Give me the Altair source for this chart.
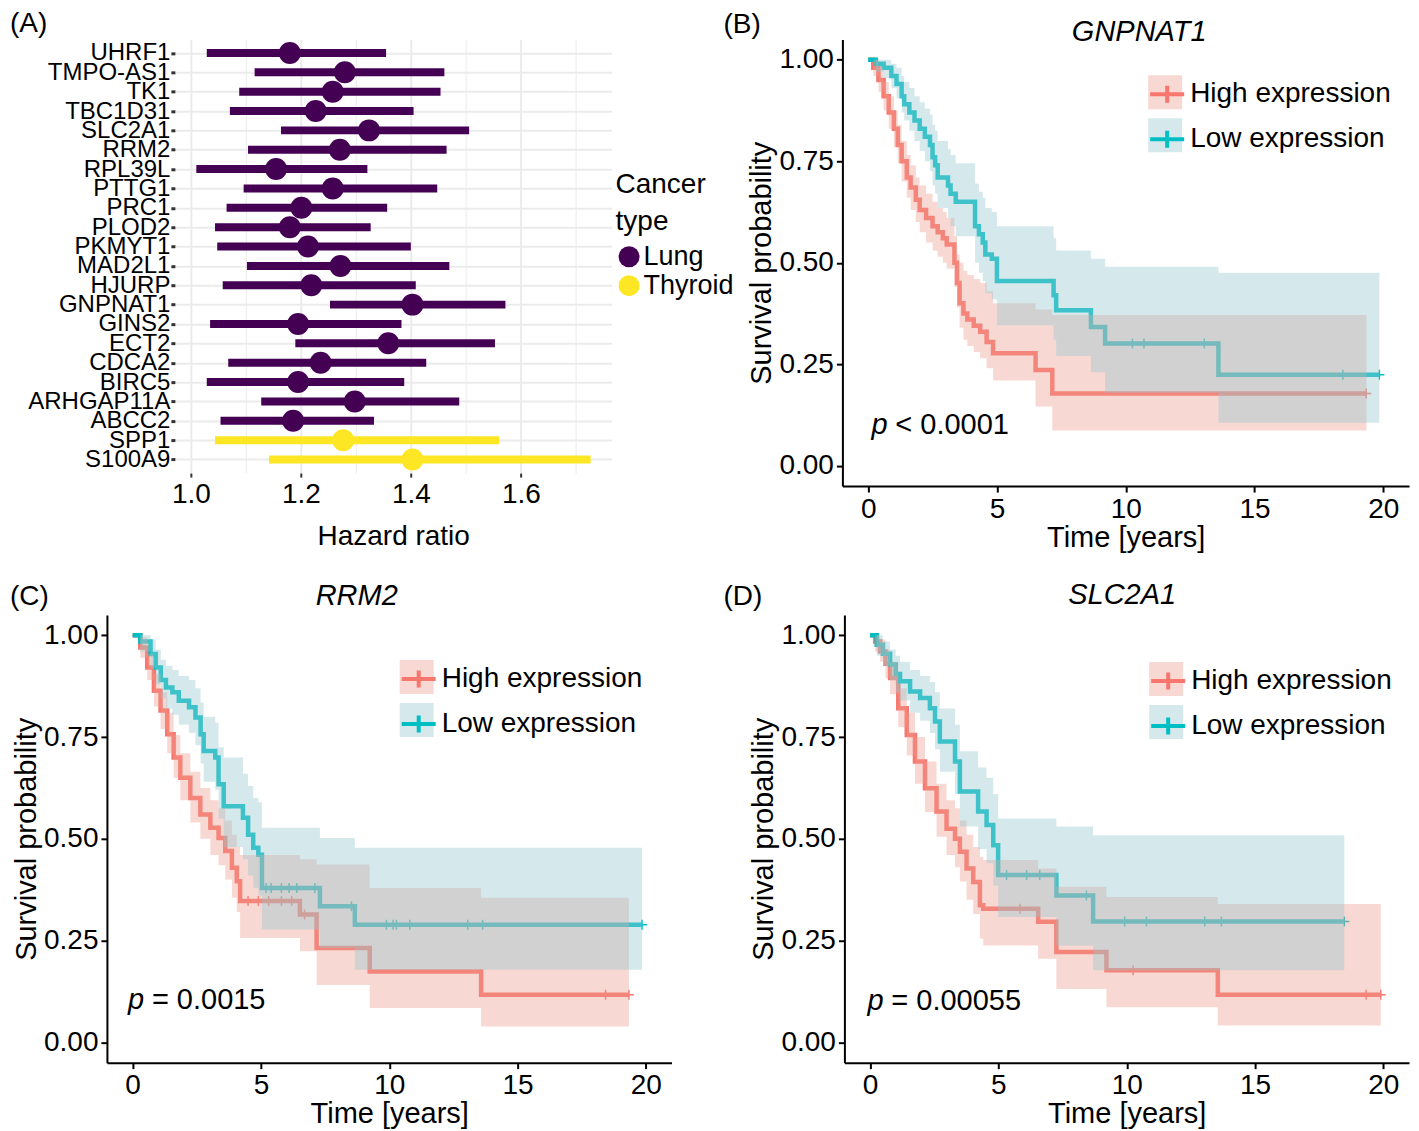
import altair as alt
import pandas as pd

FONT = "Liberation Sans"
LUNG = "#440154"
THYROID = "#FDE725"
RED = "#F8766D"
TEAL = "#00BFC4"
RED_BAND = "#EE9E91"
TEAL_BAND = "#96C8D0"
GROUPS = ["High expression", "Low expression"]

# ---------------- Panel A data ----------------
genes = ["UHRF1", "TMPO-AS1", "TK1", "TBC1D31", "SLC2A1", "RRM2", "RPL39L", "PTTG1",
         "PRC1", "PLOD2", "PKMYT1", "MAD2L1", "HJURP", "GNPNAT1", "GINS2", "ECT2",
         "CDCA2", "BIRC5", "ARHGAP11A", "ABCC2", "SPP1", "S100A9"]
cancer = ["Lung"] * 20 + ["Thyroid"] * 2
hr = [1.18, 1.28, 1.258, 1.227, 1.324, 1.271, 1.155, 1.258, 1.201, 1.18, 1.213, 1.272,
      1.219, 1.403, 1.195, 1.359, 1.236, 1.195, 1.298, 1.186, 1.277, 1.403]
hr_lo = [1.029, 1.116, 1.088, 1.071, 1.164, 1.104, 1.010, 1.096, 1.065, 1.044, 1.048, 1.102,
         1.058, 1.253, 1.035, 1.19, 1.068, 1.029, 1.128, 1.054, 1.044, 1.142]
hr_hi = [1.355, 1.461, 1.454, 1.405, 1.506, 1.465, 1.321, 1.448, 1.357, 1.327, 1.40, 1.47,
         1.409, 1.572, 1.383, 1.553, 1.428, 1.388, 1.488, 1.333, 1.561, 1.727]
hr_ticks = [1.0, 1.1, 1.2, 1.3, 1.4, 1.5, 1.6, 1.7]

# ---------------- Panel B (GNPNAT1) ----------------
B_high_t = [0, 0.2, 0.4, 0.6, 0.8, 1.0, 1.15, 1.3, 1.5, 1.65, 1.85, 2.0, 2.25, 2.5, 2.7, 2.9, 3.05, 3.35, 3.45, 3.55, 3.7, 3.85, 4.1, 4.35, 4.6, 4.85, 6.5, 7.15, 19.35]
B_high_s = [1.0, 0.98, 0.95, 0.91, 0.87, 0.83, 0.79, 0.75, 0.71, 0.685, 0.655, 0.63, 0.61, 0.59, 0.575, 0.56, 0.545, 0.50, 0.45, 0.40, 0.375, 0.36, 0.345, 0.33, 0.305, 0.277, 0.236, 0.178, 0.178]
B_high_lo = [1.0, 0.96, 0.92, 0.875, 0.83, 0.785, 0.745, 0.70, 0.66, 0.63, 0.60, 0.575, 0.55, 0.53, 0.515, 0.50, 0.485, 0.44, 0.39, 0.34, 0.31, 0.295, 0.28, 0.265, 0.24, 0.21, 0.146, 0.087, 0.087]
B_high_hi = [1.0, 1.0, 0.98, 0.945, 0.91, 0.875, 0.84, 0.80, 0.765, 0.74, 0.71, 0.69, 0.67, 0.65, 0.635, 0.625, 0.61, 0.565, 0.52, 0.50, 0.48, 0.47, 0.46, 0.45, 0.43, 0.40, 0.385, 0.371, 0.371]
B_low_t = [0, 0.3, 0.6, 0.9, 1.1, 1.3, 1.4, 1.6, 1.8, 2.0, 2.2, 2.4, 2.5, 2.6, 2.7, 3.1, 3.2, 3.4, 4.15, 4.3, 4.45, 4.55, 4.8, 5.0, 7.2, 7.3, 8.65, 9.2, 13.6, 19.85]
B_low_s = [1.0, 0.99, 0.98, 0.96, 0.94, 0.91, 0.89, 0.87, 0.85, 0.83, 0.81, 0.79, 0.76, 0.74, 0.71, 0.69, 0.67, 0.65, 0.59, 0.57, 0.55, 0.52, 0.51, 0.455, 0.42, 0.383, 0.342, 0.301, 0.224, 0.224]
B_low_lo = [1.0, 0.97, 0.955, 0.93, 0.905, 0.87, 0.85, 0.825, 0.80, 0.775, 0.75, 0.725, 0.69, 0.67, 0.635, 0.61, 0.59, 0.565, 0.50, 0.475, 0.455, 0.425, 0.41, 0.346, 0.31, 0.27, 0.23, 0.18, 0.106, 0.106]
B_low_hi = [1.0, 1.0, 1.0, 0.99, 0.98, 0.96, 0.945, 0.93, 0.91, 0.895, 0.88, 0.865, 0.84, 0.825, 0.80, 0.78, 0.765, 0.745, 0.695, 0.675, 0.66, 0.635, 0.625, 0.59, 0.56, 0.53, 0.51, 0.49, 0.475, 0.475]
B_cens_high_t = [19.34]
B_cens_high_s = [0.178]
B_cens_low_t = [10.26, 10.71, 13.05, 18.43, 19.85]
B_cens_low_s = [0.301, 0.301, 0.301, 0.224, 0.224]

# ---------------- Panel C (RRM2) ----------------
C_high_t = [0, 0.3, 0.57, 0.83, 1.09, 1.35, 1.6, 1.86, 2.25, 2.64, 3.03, 3.35, 3.61, 3.87, 4.06, 4.19, 6.52, 7.17, 9.24, 13.58, 19.34]
C_high_s = [1.0, 0.97, 0.921, 0.864, 0.815, 0.757, 0.70, 0.65, 0.60, 0.56, 0.527, 0.502, 0.47, 0.429, 0.396, 0.347, 0.314, 0.232, 0.174, 0.117, 0.117]
C_high_lo = [1.0, 0.945, 0.89, 0.825, 0.77, 0.71, 0.65, 0.595, 0.54, 0.50, 0.46, 0.435, 0.40, 0.355, 0.32, 0.256, 0.224, 0.141, 0.084, 0.039, 0.039]
C_high_hi = [1.0, 0.995, 0.955, 0.905, 0.86, 0.81, 0.755, 0.71, 0.665, 0.625, 0.595, 0.575, 0.545, 0.51, 0.48, 0.46, 0.45, 0.437, 0.379, 0.355, 0.355]
C_low_t = [0, 0.3, 0.7, 0.9, 1.1, 1.3, 1.55, 1.8, 2.2, 2.45, 2.65, 2.77, 3.22, 3.35, 3.55, 4.3, 4.5, 4.7, 4.9, 5.04, 7.3, 8.66, 19.85]
C_low_s = [1.0, 0.985, 0.954, 0.921, 0.89, 0.872, 0.86, 0.839, 0.823, 0.798, 0.757, 0.716, 0.70, 0.634, 0.58, 0.552, 0.51, 0.478, 0.461, 0.379, 0.334, 0.289, 0.289]
C_low_lo = [1.0, 0.96, 0.92, 0.88, 0.845, 0.82, 0.805, 0.78, 0.76, 0.73, 0.685, 0.64, 0.62, 0.55, 0.48, 0.45, 0.41, 0.38, 0.36, 0.277, 0.232, 0.178, 0.178]
C_low_hi = [1.0, 1.0, 0.99, 0.965, 0.94, 0.925, 0.915, 0.90, 0.89, 0.87, 0.835, 0.80, 0.785, 0.725, 0.70, 0.66, 0.63, 0.60, 0.59, 0.527, 0.502, 0.478, 0.478]
C_cens_high_t = [4.5, 4.9, 5.3, 5.8, 6.2, 6.7, 18.43, 19.34]
C_cens_high_s = [0.347, 0.347, 0.347, 0.347, 0.347, 0.314, 0.117, 0.117]
C_cens_low_t = [5.2, 5.4, 5.8, 6.1, 6.4, 7.1, 8.53, 9.89, 10.15, 10.28, 10.8, 13.06, 13.64, 19.85]
C_cens_low_s = [0.379, 0.379, 0.379, 0.379, 0.379, 0.379, 0.334, 0.289, 0.289, 0.289, 0.289, 0.289, 0.289, 0.289]

# ---------------- Panel D (SLC2A1) ----------------
D_high_t = [0, 0.2, 0.39, 0.6, 0.78, 1.1, 1.43, 1.75, 2.14, 2.59, 2.98, 3.31, 3.5, 3.76, 4.02, 4.28, 4.41, 6.55, 7.26, 9.21, 13.55, 19.9]
D_high_s = [1.0, 0.985, 0.96, 0.93, 0.895, 0.821, 0.755, 0.69, 0.624, 0.567, 0.525, 0.50, 0.468, 0.427, 0.394, 0.337, 0.328, 0.296, 0.222, 0.177, 0.117, 0.117]
D_high_lo = [1.0, 0.96, 0.935, 0.895, 0.855, 0.775, 0.705, 0.635, 0.565, 0.505, 0.46, 0.43, 0.395, 0.35, 0.315, 0.255, 0.238, 0.205, 0.131, 0.086, 0.041, 0.041]
D_high_hi = [1.0, 1.0, 0.99, 0.965, 0.935, 0.87, 0.81, 0.75, 0.69, 0.635, 0.595, 0.575, 0.545, 0.51, 0.48, 0.455, 0.448, 0.427, 0.382, 0.357, 0.34, 0.34]
D_low_t = [0, 0.26, 0.5, 0.78, 1.0, 1.17, 1.56, 1.95, 2.33, 2.53, 2.72, 3.31, 3.5, 4.21, 4.54, 4.8, 4.99, 7.26, 8.69, 18.48]
D_low_s = [1.0, 0.977, 0.955, 0.928, 0.905, 0.887, 0.862, 0.846, 0.821, 0.788, 0.739, 0.69, 0.616, 0.567, 0.534, 0.484, 0.411, 0.361, 0.297, 0.297]
D_low_lo = [1.0, 0.95, 0.925, 0.89, 0.86, 0.84, 0.81, 0.79, 0.76, 0.72, 0.665, 0.61, 0.53, 0.475, 0.44, 0.385, 0.308, 0.238, 0.177, 0.177]
D_low_hi = [1.0, 1.0, 0.985, 0.965, 0.95, 0.935, 0.915, 0.90, 0.885, 0.86, 0.82, 0.78, 0.715, 0.675, 0.65, 0.61, 0.55, 0.53, 0.509, 0.509]
D_cens_high_t = [5.84, 10.25, 19.33, 19.9]
D_cens_high_s = [0.328, 0.177, 0.117, 0.117]
D_cens_low_t = [5.32, 6.1, 6.61, 8.43, 9.92, 10.77, 13.04, 13.69, 18.48]
D_cens_low_s = [0.411, 0.411, 0.411, 0.361, 0.297, 0.297, 0.297, 0.297, 0.297]

CROSS = "M-1,0H1M0,-1V1"


def label_text(txt, x, y, size=28, style="normal", align="left"):
    return alt.Chart(pd.DataFrame({"txt": [txt]})).mark_text(
        fontSize=size, font=FONT, fontStyle=style, align=align, baseline="middle",
        color="black").encode(text="txt:N", x=alt.value(x), y=alt.value(y))


# ---------------- Panel A chart ----------------
fdf = pd.DataFrame({"gene": genes, "cancer": cancer, "hr": hr, "lo": hr_lo, "hi": hr_hi})
cond = "round(datum.value*10) % 2 == 0"
xsA = alt.Scale(domain=[0.971, 1.765], nice=False, zero=False)
ysA = alt.Scale(type="point", domain=genes, padding=0.7)
colA = alt.Scale(domain=["Lung", "Thyroid"], range=[LUNG, THYROID])
xaxisA = alt.Axis(values=hr_ticks, labelExpr=f"{cond} ? format(datum.value, '.1f') : ''",
                  grid=True, gridColor="#EBEBEB",
                  gridWidth={"condition": {"test": cond, "value": 2}, "value": 1},
                  tickOpacity={"condition": {"test": cond, "value": 1}, "value": 0},
                  domain=False, tickColor="#333333", tickSize=4, tickWidth=2,
                  labelFontSize=28, labelFont=FONT, labelColor="black", labelPadding=3,
                  labelOverlap=False, labelFlush=False,
                  title="Hazard ratio", titleFontSize=28, titleFont=FONT,
                  titleFontWeight="normal", titleColor="black", titlePadding=14)
yaxisA = alt.Axis(title=None, labelFontSize=24, labelFont=FONT, labelColor="black",
                  domain=False, tickColor="#333333", tickSize=4, tickWidth=3,
                  grid=True, gridColor="#EBEBEB", gridWidth=2, labelPadding=1)
legA = alt.Legend(title=["Cancer", "type"], orient="none", legendX=441, legendY=132,
                  titleFontSize=28, titleFont=FONT, titleFontWeight="normal", titleColor="black",
                  titleLineHeight=37, titlePadding=7,
                  labelFontSize=27, labelFont=FONT, labelColor="black", labelOffset=1,
                  symbolType="circle", symbolSize=441, symbolStrokeWidth=0, rowPadding=1,
                  symbolOpacity=1, padding=0, labelLimit=400)

rulesA = alt.Chart(fdf).mark_rule(strokeWidth=8).encode(
    y=alt.Y("gene:N", scale=ysA, axis=yaxisA),
    x=alt.X("lo:Q", scale=xsA, axis=xaxisA),
    x2="hi:Q",
    color=alt.Color("cancer:N", scale=colA, legend=legA),
)
pointsA = alt.Chart(fdf).mark_circle(size=484, opacity=1).encode(
    y=alt.Y("gene:N", scale=ysA, axis=yaxisA),
    x=alt.X("hr:Q", scale=xsA, axis=xaxisA),
    color=alt.Color("cancer:N", scale=colA, legend=legA),
)
panelA = alt.layer(rulesA, pointsA, label_text("(A)", -165, -15)).properties(width=437, height=434)


# ---------------- KM panels ----------------
def km_df(t, s, lo, hi, g):
    return pd.DataFrame({"t": t, "s": s, "lo": lo, "hi": hi, "group": g, "band": g + " "})


def km_panel(label, label_x, label_y, gene, gene_x, gene_y, ptext, p_x, p_y,
             high, low, cens_high, cens_low, legx, legy, w, h):
    df = pd.concat([km_df(*high, GROUPS[0]), km_df(*low, GROUPS[1])], ignore_index=True)
    cdf = pd.concat([
        pd.DataFrame({"t": cens_high[0], "s": cens_high[1], "cg": GROUPS[0] + "  "}),
        pd.DataFrame({"t": cens_low[0], "s": cens_low[1], "cg": GROUPS[1] + "  "}),
    ], ignore_index=True)
    xs = alt.Scale(domain=[-1, 21], nice=False, zero=False)
    ys = alt.Scale(domain=[-0.05, 1.05], nice=False, zero=False)
    common = dict(domainColor="black", domainWidth=2, tickColor="black", tickWidth=2,
                  tickSize=6, labelFontSize=28, labelFont=FONT, labelColor="black",
                  titleFontSize=29, titleFont=FONT, titleFontWeight="normal",
                  titleColor="black", grid=False, labelFlush=False, labelOverlap=False)
    xax = alt.Axis(values=[0, 5, 10, 15, 20], title="Time [years]", labelPadding=3,
                   titlePadding=0, **common)
    yax = alt.Axis(values=[0, 0.25, 0.5, 0.75, 1.0], format=".2f",
                   title="Survival probability", labelPadding=3, titlePadding=2, **common)
    sc_line = alt.Scale(domain=GROUPS, range=[RED, TEAL])
    sc_band = alt.Scale(domain=[g + " " for g in GROUPS], range=[RED_BAND, TEAL_BAND])
    sc_cens = alt.Scale(domain=[g + "  " for g in GROUPS], range=[RED, TEAL])
    leg_common = dict(orient="none", legendX=legx, legendY=legy, title=None,
                      symbolSize=1156, labelFontSize=28, labelFont=FONT, labelColor="black",
                      labelOffset=4, rowPadding=9, padding=0, labelLimit=400)
    X = alt.X("t:Q", scale=xs, axis=xax)
    Yb = alt.Y("lo:Q", scale=ys, axis=yax)
    band_legend = alt.Chart(df).mark_area(interpolate="step-after", opacity=0.0).encode(
        x=X, y=Yb, y2="hi:Q",
        fill=alt.Fill("band:N", scale=sc_band, legend=alt.Legend(
            symbolType="square", symbolOpacity=0.4, symbolStrokeWidth=0, labelOpacity=0,
            **leg_common)),
    )
    line = alt.Chart(df).mark_line(interpolate="step-after", strokeWidth=4.5).encode(
        x=X, y=alt.Y("s:Q", scale=ys, axis=yax),
        stroke=alt.Stroke("group:N", scale=sc_line, legend=alt.Legend(
            symbolType="M-1,0H1M0,-0.5V0.5", symbolStrokeWidth=4, symbolOpacity=1,
            **leg_common)),
    )
    cens = alt.Chart(cdf).mark_point(shape=CROSS, size=100, strokeWidth=1.5, filled=False,
                                     opacity=1).encode(
        x=X, y=alt.Y("s:Q", scale=ys, axis=yax),
        color=alt.Color("cg:N", scale=sc_cens, legend=None),
    )
    band = alt.Chart(df).mark_area(interpolate="step-after", opacity=0.4).encode(
        x=X, y=Yb, y2="hi:Q",
        fill=alt.Fill("band:N", scale=sc_band, legend=None),
    )
    return alt.layer(
        band_legend, line, cens, band,
        label_text(label, label_x, label_y),
        label_text(gene, gene_x, gene_y, size=29, style="italic", align="center"),
        label_text("p", p_x, p_y, size=29, style="italic"),
        label_text(ptext, p_x + 24, p_y, size=29),
    ).properties(width=w, height=h)


panelB = km_panel("(B)", -119, -14, "GNPNAT1", 297, -7, "<\u00a00.0001", 29, 386,
                  (B_high_t, B_high_s, B_high_lo, B_high_hi),
                  (B_low_t, B_low_s, B_low_lo, B_low_hi),
                  (B_cens_high_t, B_cens_high_s), (B_cens_low_t, B_cens_low_s),
                  306, 36, 567, 447)
panelC = km_panel("(C)", -97, -18, "RRM2", 250, -19, "=\u00a00.0015", 21, 385,
                  (C_high_t, C_high_s, C_high_lo, C_high_hi),
                  (C_low_t, C_low_s, C_low_lo, C_low_hi),
                  (C_cens_high_t, C_cens_high_s), (C_cens_low_t, C_cens_low_s),
                  293, 45, 565, 448)
panelD = km_panel("(D)", -121, -18, "SLC2A1", 278, -20, "=\u00a00.00055", 23, 386,
                  (D_high_t, D_high_s, D_high_lo, D_high_hi),
                  (D_low_t, D_low_s, D_low_lo, D_low_hi),
                  (D_cens_high_t, D_cens_high_s), (D_cens_low_t, D_cens_low_s),
                  305, 47, 565, 448)


def spacer(w, h):
    return alt.Chart(pd.DataFrame({"v": [0]})).mark_point(opacity=0).encode(
        x=alt.X("v:Q", axis=None), y=alt.Y("v:Q", axis=None)).properties(width=w, height=h)


res = dict(color="independent", fill="independent", stroke="independent",
           x="independent", y="independent")
leg_res = dict(color="independent", fill="independent", stroke="independent")
row1 = alt.hconcat(spacer(68, 447), panelA, spacer(231, 447), panelB, spacing=0,
                   bounds="flush").resolve_scale(**res).resolve_legend(**leg_res)
row2 = alt.hconcat(panelC, panelD, spacing=173,
                   bounds="flush").resolve_scale(**res).resolve_legend(**leg_res)
chart = alt.vconcat(row1, row2, spacing=29, bounds="full").resolve_scale(**res).resolve_legend(
    **leg_res
).properties(
    padding={"left": 2, "top": 2, "right": 2, "bottom": 2}, background="white"
).configure_view(stroke=None)

chart.save("out.html", embed_options={"renderer": "svg", "actions": False})
